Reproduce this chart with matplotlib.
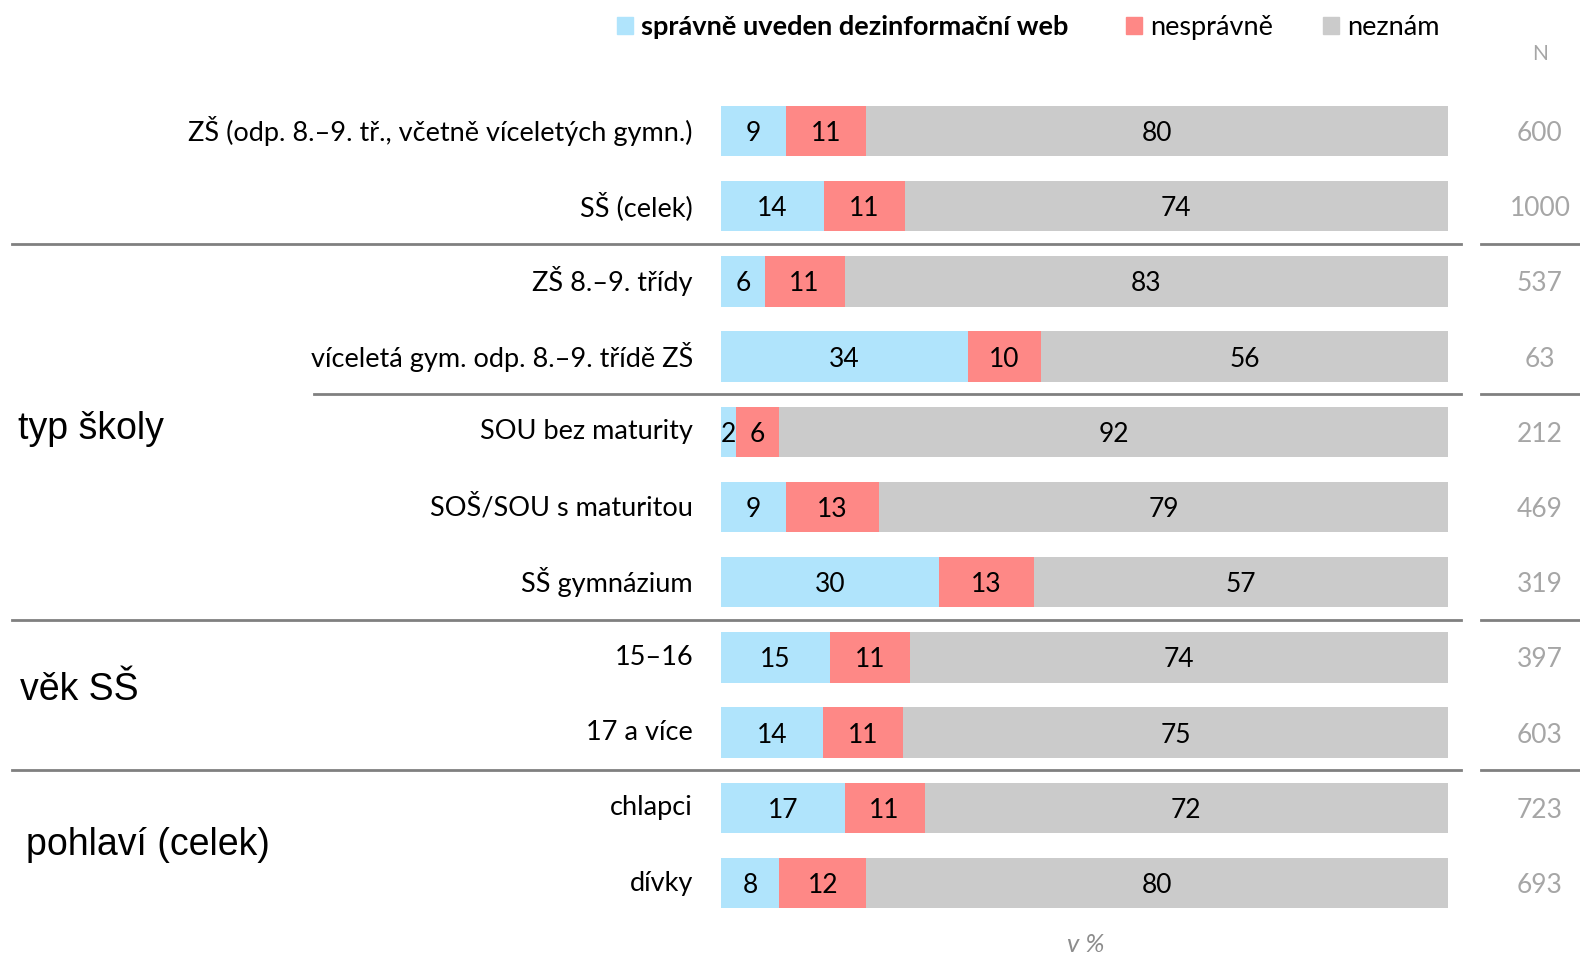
import matplotlib
matplotlib.use("Agg")
import matplotlib.pyplot as plt
import matplotlib.transforms as mtransforms
from matplotlib.lines import Line2D
from matplotlib.patches import Rectangle
import numpy as np

categories = [
    "ZŠ (odp. 8.–9. tř., včetně víceletých gymn.)",
    "SŠ (celek)",
    "ZŠ 8.–9. třídy",
    "víceletá gym. odp. 8.–9. třídě ZŠ",
    "SOU bez maturity",
    "SOŠ/SOU s maturitou",
    "SŠ gymnázium",
    "15–16",
    "17 a více",
    "chlapci",
    "dívky",
]
spravne = [9, 14, 6, 34, 2, 9, 30, 15, 14, 17, 8]
nespravne = [11, 11, 11, 10, 6, 13, 13, 11, 11, 11, 12]
neznam = [80, 74, 83, 56, 92, 79, 57, 74, 75, 72, 80]
n_values = [600, 1000, 537, 63, 212, 469, 319, 397, 603, 723, 693]
series_names = ["správně uveden dezinformační web", "nesprávně", "neznám"]
groups = [("typ školy", 3.96, 18), ("věk SŠ", 7.43, 20), ("pohlaví (celek)", 9.49, 26)]
separators = [(1.5, 12), (3.5, 314), (6.5, 12), (8.5, 12)]

colors = ["#b0e4fc", "#fe8886", "#cbcbcb"]
FONT = ["Lato", "DejaVu Sans"]
ARIAL = ["Liberation Sans", "DejaVu Sans"]

W, H = 1580, 956
fig = plt.figure(figsize=(W / 100, H / 100), dpi=100)

row0, step = 131.0, 75.2
top_px = row0 - step / 2
bot_px = row0 + step * (len(categories) - 0.5)
ax = fig.add_axes([721 / W, 1 - bot_px / H, (1448 - 721) / W, (bot_px - top_px) / H])
ax.set_xlim(0, 100)
ax.set_ylim(len(categories) - 0.5, -0.5)
ax.axis("off")

y = np.arange(len(categories))
vals = np.array([spravne, nespravne, neznam], dtype=float)
totals = vals.sum(axis=0)
widths = vals / totals * 100
left = np.zeros(len(categories))
for k in range(3):
    ax.barh(y, widths[k], left=left, height=0.67, color=colors[k], edgecolor="none")
    for i in range(len(categories)):
        ax.text(left[i] + widths[k][i] / 2, y[i], f"{int(vals[k][i])}",
                ha="center", va="center_baseline", fontsize=19, family=FONT,
                color="black")
    left = left + widths[k]

tr_lab = mtransforms.blended_transform_factory(fig.transFigure, ax.transData)
for i, c in enumerate(categories):
    ax.text(693 / W, y[i], c, transform=tr_lab, ha="right", va="center",
            fontsize=19.5, family=FONT, color="black")
    ax.text(1540 / W, y[i], str(n_values[i]), transform=tr_lab, ha="center",
            va="center_baseline", fontsize=19, family=FONT, color="#a6a6a6")

for name, gy, gx in groups:
    ax.text(gx / W, gy, name, transform=tr_lab, ha="left", va="center",
            fontsize=27, family=ARIAL, color="black")

for sy, sx in separators:
    ax.add_line(Line2D([sx / W, 1461 / W], [sy, sy], transform=tr_lab,
                       color="#808080", lw=2, clip_on=False))
    ax.add_line(Line2D([1481 / W, 1.0], [sy, sy], transform=tr_lab,
                       color="#808080", lw=2, clip_on=False))

fig.text(1540 / W, 1 - 54 / H, "N", ha="center", va="center", fontsize=15,
         family=FONT, color="#a6a6a6")

leg_items = [(617, 641, series_names[0], "bold"),
             (1126, 1150, series_names[1], "normal"),
             (1323, 1347, series_names[2], "normal")]
for k, (sx, tx, name, wgt) in enumerate(leg_items):
    fig.patches.append(Rectangle((sx / W, 1 - 34 / H), 16 / W, 17 / H,
                                 transform=fig.transFigure, color=colors[k]))
    fig.text(tx / W, 1 - 25 / H, name, ha="left", va="center_baseline",
             fontsize=19.5, family=FONT, weight=wgt, color="black")

fig.text(1086 / W, 1 - 944 / H, "v %", ha="center", va="center", fontsize=18.5,
         family=FONT, style="italic", color="#8c8c8c")

fig.savefig("out.png", dpi=100, facecolor="white")
